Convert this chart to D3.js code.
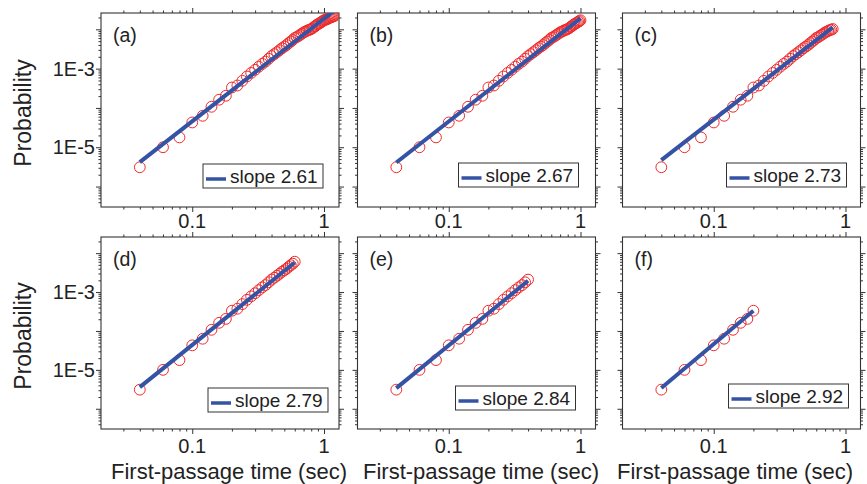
<!DOCTYPE html>
<html>
<head>
<meta charset="utf-8">
<script src="https://cdn.jsdelivr.net/npm/d3@7"></script>
<style>
  html, body { margin: 0; padding: 0; background: #fff; }
  svg { display: block; font-family: "Liberation Sans", Arial, sans-serif; }
</style>
</head>
<body>
<svg id="chart" width="867" height="484"></svg>
<script>
// ---------------- data ----------------
const times = [0.04, 0.06, 0.08, 0.10, 0.12, 0.14, 0.16, 0.18, 0.20, 0.22, 0.24,
  0.26, 0.28, 0.30, 0.32, 0.34, 0.36, 0.38, 0.40, 0.42, 0.44, 0.46, 0.48, 0.50,
  0.52, 0.54, 0.56, 0.58, 0.60, 0.62, 0.64, 0.66, 0.68, 0.70, 0.72, 0.74, 0.76,
  0.78, 0.80, 0.82, 0.84, 0.86, 0.88, 0.90, 0.92, 0.94, 0.96, 0.98, 1.00, 1.02,
  1.04, 1.06, 1.08, 1.10, 1.12, 1.14, 1.16, 1.18, 1.20];
const probability = [3.1e-6, 1.0e-5, 1.78e-5, 4.27e-5, 6.31e-5, 1.07e-4, 1.62e-4, 2.04e-4, 3.31e-4, 3.72e-4, 4.90e-4,
  6.31e-4, 7.76e-4, 9.33e-4, 1.12e-3, 1.32e-3, 1.51e-3, 1.78e-3, 2.09e-3, 2.34e-3, 2.63e-3, 2.95e-3, 3.31e-3, 3.63e-3,
  3.98e-3, 4.47e-3, 4.90e-3, 5.37e-3, 6.03e-3, 6.31e-3, 6.76e-3, 7.24e-3, 7.76e-3, 8.32e-3, 8.71e-3, 9.12e-3, 9.55e-3,
  9.77e-3, 1.02e-2, 1.07e-2, 1.15e-2, 1.20e-2, 1.29e-2, 1.35e-2, 1.41e-2, 1.48e-2, 1.55e-2, 1.62e-2, 1.70e-2, 1.74e-2,
  1.78e-2, 1.82e-2, 1.91e-2, 1.95e-2, 2.00e-2, 2.04e-2, 2.09e-2, 2.14e-2, 2.19e-2];

const panelLabels = ["(a)", "(b)", "(c)", "(d)", "(e)", "(f)"];
const slopes = [2.61, 2.67, 2.73, 2.79, 2.84, 2.92];
const tMax = [1.2, 1.0, 0.8, 0.6, 0.4, 0.2];
const fitStartT = 0.04;
const fitStartP = [4.2e-6, 4.1e-6, 4.7e-6, 3.6e-6, 3.4e-6, 3.4e-6];
const fitEndP = [3.0e-2, 1.9e-2, 1.12e-2, 5.75e-3, 1.95e-3, 3.3e-4];

const xTickLabels = ["0.1", "1"];
const yTickLabels = ["1E-3", "1E-5"];
const xLabel = "First-passage time (sec)";
const yLabel = "Probability";

// ---------------- layout ----------------
const colLeft = [101, 357.5, 622.5];
const panelW = 238;
const rowTop = [13, 237];
const rowH = [194, 192];
const xTickBaseline = [228, 453];
const legendRight = [16, 17, 14, 11, 20, 12];
const legendBottom = [19, 20, 20, 17, 19, 21];
const xLabelCenter = [229, 481, 735];

const RED = "#f02a2a";
const BLUE = "#3553a5";
const AXIS = "#333";
const TEXT = "#222";

const svg = d3.select("#chart");
const defs = svg.append("defs");

const xMajor = [0.1, 1];
const xMinor = [];
[0.01, 0.1, 1].forEach(d => { for (let k = 2; k <= 9; k++) xMinor.push(k * d); });
const yMajor = [1e-6, 1e-5, 1e-4, 1e-3, 1e-2, 1e-1];
const yMinor = [];
[1e-7, 1e-6, 1e-5, 1e-4, 1e-3, 1e-2].forEach(d => { for (let k = 2; k <= 9; k++) yMinor.push(k * d); });

panelLabels.forEach((lab, i) => {
  const col = i % 3, row = Math.floor(i / 3);
  const x0 = colLeft[col], y0 = rowTop[row], w = panelW, h = rowH[row];
  const x = d3.scaleLog().domain([0.0203, 1.3]).range([x0, x0 + w]);
  const y = d3.scaleLog().domain([Math.pow(10, -6.52), Math.pow(10, -1.585)]).range([y0 + h, y0]);
  const inX = v => v >= x.domain()[0] && v <= x.domain()[1];
  const inY = v => v >= y.domain()[0] && v <= y.domain()[1];
  const g = svg.append("g");

  // axes with outward ticks on all four sides
  const mk = (axisFn, scale, vals, size) => axisFn(scale).tickValues(vals).tickSize(size).tickFormat("");
  const axes = [
    [d3.axisBottom, x, `translate(0,${y0 + h})`, inX],
    [d3.axisTop, x, `translate(0,${y0})`, inX],
    [d3.axisLeft, y, `translate(${x0},0)`, inY],
    [d3.axisRight, y, `translate(${x0 + w},0)`, inY]
  ];
  axes.forEach(([fn, sc, tr, inside]) => {
    const major = (sc === x ? xMajor : yMajor).filter(inside);
    const minor = (sc === x ? xMinor : yMinor).filter(inside);
    [[minor, 2.5], [major, 5]].forEach(([vals, sz]) => {
      const a = g.append("g").attr("transform", tr).call(mk(fn, sc, vals, sz));
      a.select(".domain").remove();
      a.selectAll("line").attr("stroke", AXIS).attr("stroke-width", 1);
    });
  });
  g.append("rect").attr("x", x0).attr("y", y0).attr("width", w).attr("height", h)
    .attr("fill", "none").attr("stroke", AXIS).attr("stroke-width", 1.1);

  // x tick labels
  xTickLabels.forEach(t => {
    g.append("text").attr("x", x(+t)).attr("y", xTickBaseline[row])
      .attr("text-anchor", "middle").attr("font-size", 20).attr("fill", TEXT).text(t);
  });
  // y tick labels on left column only
  if (col === 0) {
    yTickLabels.forEach(t => {
      g.append("text").attr("x", x0 - 6).attr("y", y(+t)).attr("dy", "0.36em")
        .attr("text-anchor", "end").attr("font-size", 20).attr("fill", TEXT).text(t);
    });
    g.append("text")
      .attr("transform", `translate(31,${y0 + h / 2 + 3}) rotate(-90)`)
      .attr("text-anchor", "middle").attr("font-size", 23).attr("fill", TEXT).text(yLabel);
  }
  if (row === 1) {
    g.append("text").attr("x", xLabelCenter[col]).attr("y", 479)
      .attr("text-anchor", "middle").attr("font-size", 22).attr("fill", TEXT).text(xLabel);
  }

  // clip
  const cid = "clip" + i;
  defs.append("clipPath").attr("id", cid).append("rect")
    .attr("x", x0).attr("y", y0).attr("width", w).attr("height", h);
  const plot = g.append("g").attr("clip-path", `url(#${cid})`);

  const pts = times.map((t, k) => ({ t, p: probability[k] })).filter(d => d.t <= tMax[i] + 1e-9);
  plot.selectAll("circle").data(pts).join("circle")
    .attr("cx", d => x(d.t)).attr("cy", d => y(d.p)).attr("r", 5.4)
    .attr("fill", "none").attr("stroke", RED).attr("stroke-width", 1);

  plot.append("path")
    .datum([[fitStartT, fitStartP[i]], [tMax[i], fitEndP[i]]])
    .attr("d", d3.line().x(d => x(d[0])).y(d => y(d[1])))
    .attr("stroke", BLUE).attr("stroke-width", 4).attr("fill", "none");

  // panel label
  g.append("text").attr("x", x0 + 12).attr("y", y0 + 29)
    .attr("font-size", 19.5).attr("fill", TEXT).text(lab);

  // legend
  const bw = 120, bh = 24;
  const bx = x0 + w - legendRight[i] - bw, by = y0 + h - legendBottom[i] - bh;
  g.append("rect").attr("x", bx).attr("y", by).attr("width", bw).attr("height", bh)
    .attr("fill", "#fff").attr("stroke", AXIS).attr("stroke-width", 1);
  g.append("line").attr("x1", bx + 3).attr("x2", bx + 23).attr("y1", by + 15).attr("y2", by + 15)
    .attr("stroke", BLUE).attr("stroke-width", 3.5);
  g.append("text").attr("x", bx + 27).attr("y", by + 19)
    .attr("font-size", 19).attr("fill", TEXT).text("slope " + slopes[i].toFixed(2));
});
</script>
</body>
</html>
